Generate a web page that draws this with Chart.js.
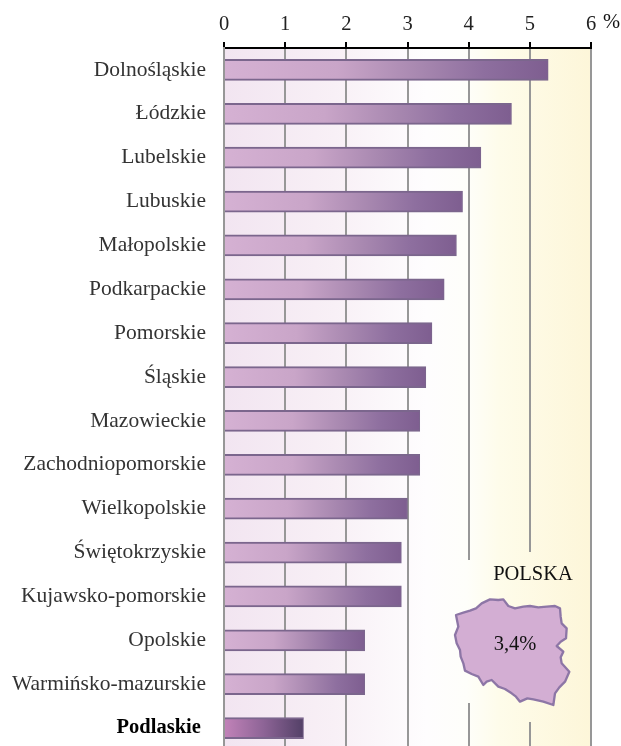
<!DOCTYPE html>
<html>
<head>
<meta charset="utf-8">
<script src="https://cdn.jsdelivr.net/npm/chart.js@4"></script>
<style>
  html, body { margin: 0; padding: 0; background: #fff; overflow: hidden; height: 746px; }
  canvas { display: block; }
</style>
</head>
<body>
<canvas id="chart" width="621" height="752"></canvas>
<script>
const regions = ['Dolnośląskie', 'Łódzkie', 'Lubelskie', 'Lubuskie', 'Małopolskie', 'Podkarpackie', 'Pomorskie', 'Śląskie',
  'Mazowieckie', 'Zachodniopomorskie', 'Wielkopolskie', 'Świętokrzyskie', 'Kujawsko-pomorskie', 'Opolskie', 'Warmińsko-mazurskie', 'Podlaskie'];
const values = [5.3, 4.7, 4.2, 3.9, 3.8, 3.6, 3.4, 3.3, 3.2, 3.2, 3.0, 2.9, 2.9, 2.3, 2.3, 1.3];
const highlight = 'Podlaskie';
const axisTicks = [0, 1, 2, 3, 4, 5, 6];
const unit = '%';
const mapTitle = 'POLSKA';
const mapValue = '3,4%';

// outline, zoomed crop units
const mapOutline = [[48,225],[70,218],[90,212],[108,205],[125,190],[150,178],[175,180],[190,178],[205,198],[225,205],[250,200],[270,198],
  [295,202],[320,200],[345,198],[360,205],[362,230],[365,250],[380,265],[378,295],[362,305],[350,318],[370,335],[362,352],[365,370],[388,395],
  [375,425],[358,442],[345,460],[340,495],[310,485],[280,478],[262,475],[240,485],[228,470],[215,460],[195,447],[175,440],[155,420],[140,425],
  [130,435],[115,410],[95,402],[75,392],[70,370],[62,350],[60,330],[50,310],[45,285],[55,260]];

const serif = '"Liberation Serif", "Times New Roman", serif';

function plotBackground(chart) {
  const a = chart.chartArea;
  const g = chart.ctx.createLinearGradient(a.left, 0, a.right, 0);
  g.addColorStop(0, '#f2e5f1');
  g.addColorStop(0.3, '#f8f0f6');
  g.addColorStop(0.55, '#fefdfe');
  g.addColorStop(0.66, '#fefefa');
  g.addColorStop(0.75, '#fefcea');
  g.addColorStop(1, '#fdf6d9');
  return g;
}

const decorations = {
  id: 'decorations',
  beforeDraw(chart) {
    const a = chart.chartArea;
    chart.ctx.fillStyle = plotBackground(chart);
    chart.ctx.fillRect(a.left, a.top, a.right - a.left, a.bottom - a.top);
  },
  beforeDatasetsDraw(chart) {
    // the map inset sits on a patch that hides the grid lines
    const ctx = chart.ctx;
    ctx.fillStyle = plotBackground(chart);
    ctx.fillRect(462, 560, 14, 143);
    ctx.fillRect(524, 552, 14, 170);
  },
  afterDraw(chart) {
    const ctx = chart.ctx;
    ctx.save();
    ctx.fillStyle = '#111';
    ctx.font = '20.5px ' + serif;
    ctx.textBaseline = 'middle';
    ctx.textAlign = 'left';
    ctx.fillText(unit, 603, 23);

    ctx.save();
    ctx.translate(440, 540);
    ctx.scale(1 / 3, 1 / 3);
    ctx.beginPath();
    mapOutline.forEach((p, i) => i ? ctx.lineTo(p[0], p[1]) : ctx.moveTo(p[0], p[1]));
    ctx.closePath();
    ctx.fillStyle = '#d3aed3';
    ctx.fill();
    ctx.lineWidth = 7;
    ctx.lineJoin = 'round';
    ctx.strokeStyle = '#8d76a6';
    ctx.stroke();
    ctx.restore();

    ctx.fillStyle = '#111';
    ctx.textAlign = 'center';
    ctx.fillText(mapTitle, 533, 575);
    ctx.fillText(mapValue, 515, 645);
    ctx.restore();
  }
};

function barFill(context) {
  const chart = context.chart;
  if (!chart.chartArea) return '#a080b0';
  const x = chart.scales.x;
  const g = chart.ctx.createLinearGradient(x.getPixelForValue(0), 0, x.getPixelForValue(context.raw), 0);
  if (regions[context.dataIndex] === highlight) {
    g.addColorStop(0, '#c283b9');
    g.addColorStop(0.5, '#8d6496');
    g.addColorStop(1, '#534067');
  } else {
    g.addColorStop(0, '#d5b1d3');
    g.addColorStop(0.35, '#c9a5c8');
    g.addColorStop(0.6, '#a888b0');
    g.addColorStop(0.8, '#8e6f9f');
    g.addColorStop(1, '#7e5e90');
  }
  return g;
}

new Chart(document.getElementById('chart'), {
  type: 'bar',
  data: {
    labels: regions,
    datasets: [{
      data: values,
      backgroundColor: barFill,
      borderColor: '#7b668d',
      borderWidth: { top: 2, bottom: 2, right: 1, left: 0 },
      borderSkipped: false,
      barThickness: 21
    }]
  },
  options: {
    indexAxis: 'y',
    responsive: false,
    animation: false,
    layout: { padding: { left: 0, right: 30, top: 0, bottom: 2 } },
    plugins: { legend: { display: false }, tooltip: { enabled: false } },
    scales: {
      x: {
        position: 'top',
        min: 0,
        max: 6,
        afterBuildTicks: s => { s.ticks = axisTicks.map(v => ({ value: v })); },
        afterFit: s => { s.height = 48; s.paddingLeft = 0; s.paddingRight = 0; },
        border: { color: '#000', width: 2 },
        grid: { color: '#979797', lineWidth: 2, tickColor: '#000', tickLength: 6 },
        ticks: { color: '#222', font: { family: serif, size: 20.5 }, padding: 5, maxRotation: 0 }
      },
      y: {
        afterFit: s => { s.width = 224; s.paddingTop = 0; s.paddingBottom = 0; },
        border: { color: '#979797', width: 2 },
        grid: { display: false },
        ticks: {
          padding: 10,
          autoSkip: false,
          callback(v, i) { return regions[i] === highlight ? regions[i] + '\u00a0' : regions[i]; },
          color: c => regions[c.index] === highlight ? '#000' : '#333',
          font: c => regions[c.index] === highlight
            ? { family: serif, size: 20.5, weight: 'bold' }
            : { family: serif, size: 21.5 }
        }
      }
    }
  },
  plugins: [decorations]
});
</script>
</body>
</html>
